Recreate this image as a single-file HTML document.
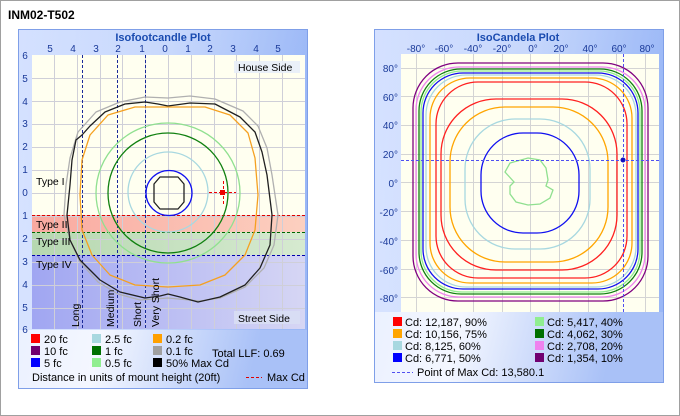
<!DOCTYPE html>
<html><head><meta charset="utf-8"><style>
body{margin:0;background:#fff}
svg{display:block;font-family:"Liberation Sans",sans-serif}
</style></head><body>
<svg width="680" height="416" viewBox="0 0 680 416" xmlns="http://www.w3.org/2000/svg">
<defs>
<linearGradient id="pg" x1="0" y1="0" x2="1" y2="0.3"><stop offset="0" stop-color="#e4ecff"/><stop offset="0.5" stop-color="#f4f7ff"/><stop offset="1" stop-color="#a9c1f7"/></linearGradient>
<linearGradient id="tb" x1="0" y1="0" x2="1" y2="0"><stop offset="0" stop-color="#c9d9ff"/><stop offset="1" stop-color="#8fb0f6"/></linearGradient>
<linearGradient id="t4" x1="0" y1="0" x2="1" y2="0"><stop offset="0" stop-color="#a0a6f2"/><stop offset="1" stop-color="#d6d6f4"/></linearGradient>
<linearGradient id="t2" x1="0" y1="0" x2="1" y2="0"><stop offset="0" stop-color="#f9a9a0"/><stop offset="1" stop-color="#fcd0c0"/></linearGradient>
<linearGradient id="t3" x1="0" y1="0" x2="1" y2="0"><stop offset="0" stop-color="#b6d8b0"/><stop offset="1" stop-color="#d6ead0"/></linearGradient>
</defs>
<rect x="0.5" y="0.5" width="679" height="415" fill="#fff" stroke="#a0a0a0"/>
<text x="8" y="19" font-size="12" font-weight="bold">INM02-T502</text>

<!-- LEFT PANEL -->
<rect x="18.5" y="29.5" width="289" height="359" fill="url(#pg)" stroke="#7f9fe8"/>
<rect x="19" y="30" width="288" height="300" fill="url(#tb)" opacity="0.6"/>
<text x="163" y="41" font-size="11" font-weight="bold" fill="#1a4bb0" text-anchor="middle">Isofootcandle Plot</text>
<g font-size="10" fill="#1a3a9a" text-anchor="middle">
<text x="50" y="52">5</text><text x="73" y="52">4</text><text x="96" y="52">3</text><text x="118" y="52">2</text><text x="142" y="52">1</text><text x="165" y="52">0</text><text x="188" y="52">1</text><text x="210" y="52">2</text><text x="233" y="52">3</text><text x="256" y="52">4</text><text x="278" y="52">5</text>
<text x="25" y="59">6</text><text x="25" y="82">5</text><text x="25" y="105">4</text><text x="25" y="127">3</text><text x="25" y="150">2</text><text x="25" y="173">1</text><text x="25" y="196">0</text><text x="25" y="219">1</text><text x="25" y="242">2</text><text x="25" y="265">3</text><text x="25" y="288">4</text><text x="25" y="311">5</text><text x="25" y="333">6</text>
</g>
<rect x="32" y="55" width="273" height="274" fill="#fffff0"/>
<rect x="32" y="215" width="273" height="17" fill="url(#t2)"/>
<rect x="32" y="232" width="273" height="23" fill="url(#t3)"/>
<rect x="32" y="255" width="273" height="74" fill="url(#t4)"/>
<g stroke="#cfcfd8" stroke-width="1">
<path d="M54.5 55V329M77.5 55V329M100.5 55V329M122.5 55V329M145.5 55V329M168.5 55V329M191.5 55V329M214.5 55V329M236.5 55V329M259.5 55V329M282.5 55V329"/>
<path d="M32 78.5H305M32 101.5H305M32 124.5H305M32 147.5H305M32 170.5H305M32 193.5H305M32 216.5H305M32 239.5H305M32 262.5H305M32 285.5H305M32 308.5H305"/>
</g>
<g stroke-dasharray="3,2" stroke-width="1">
<path d="M32 215.5H305" stroke="#d00"/>
<path d="M32 232.5H305" stroke="#060"/>
<path d="M32 255.5H305" stroke="#00a"/>
<path d="M82.5 55V329M117.5 55V329M145.5 55V329" stroke="#1a2a9a"/>
</g>
<g fill="none" stroke-linejoin="round">
<path d="M168 98 L190 96 L215 99 L243 111 L258 126 L267 148 L272 175 L278 215 L274 245 L264 268 L245 287 L220 298 L200 301 L168 298 L140 300 L118 294 L98 282 L80 262 L70 240 L64 215 L66 185 L70 158 L78 132 L96 112 L120 102 L145 97 Z" stroke="#b0b0b0" stroke-width="1.3"/>
<path d="M168 106 L158 104 L145 102 L125 104 L105 112 L90 126 L82 135 L76 140 L72 160 L70 185 L67 215 L70 240 L80 260 L100 280 L120 292 L145 298 L160 296 L168 294 L180 297 L198 302 L220 297 L245 285 L260 268 L270 245 L272 215 L267 175 L262 152 L255 132 L240 117 L215 104 L190 103 Z" stroke="#202020" stroke-width="1.3"/>
<path d="M168 107 L205 107 L230 115 L248 133 L255 158 L258 195 L255 230 L245 255 L225 275 L200 285 L168 287 L135 285 L110 275 L92 255 L82 230 L80 195 L82 160 L90 135 L108 115 L135 107 Z" stroke="#f5a020" stroke-width="1.3"/>
<ellipse cx="168" cy="193" rx="72" ry="70" stroke="#90e090" stroke-width="1.3"/>
<ellipse cx="168" cy="193" rx="60" ry="60" stroke="#108010" stroke-width="1.3"/>
<ellipse cx="168" cy="192" rx="40" ry="40" stroke="#a8d8e0" stroke-width="1.3"/>
<ellipse cx="169" cy="193" rx="23" ry="22.5" stroke="#1010f0" stroke-width="1.3"/>
<path d="M160 177 L178 177 L184 184 L184 202 L178 209 L160 209 L154 202 L154 184 Z" stroke="#202020" stroke-width="1.3"/>
</g>
<g stroke="#e00" stroke-dasharray="3,2"><path d="M209 192.5H236M223.5 181V206"/></g>
<rect x="220" y="190" width="5" height="5" fill="#e00"/>
<rect x="234" y="61" width="66" height="12" fill="#e8eef8" opacity="0.9"/>
<text x="238" y="71" font-size="10.5">House Side</text>
<rect x="234" y="311" width="66" height="13" fill="#d8def4" opacity="0.9"/>
<text x="238" y="322" font-size="10.5">Street Side</text>
<g font-size="10.5">
<text x="36" y="185">Type I</text><text x="36" y="228">Type II</text><text x="36" y="245">Type III</text><text x="36" y="268">Type IV</text>
<text transform="translate(79,327) rotate(-90)">Long</text>
<text transform="translate(114,327) rotate(-90)">Medium</text>
<text transform="translate(141,327) rotate(-90)">Short</text>
<text transform="translate(159,327) rotate(-90)">Very Short</text>
</g>
<g font-size="11">
<rect x="31" y="334" width="9" height="9" fill="#f00"/><text x="44" y="343">20 fc</text>
<rect x="31" y="346" width="9" height="9" fill="#700070"/><text x="44" y="355">10 fc</text>
<rect x="31" y="358" width="9" height="9" fill="#00f"/><text x="44" y="367">5 fc</text>
<rect x="92" y="334" width="9" height="9" fill="#a8d8e0"/><text x="105" y="343">2.5 fc</text>
<rect x="92" y="346" width="9" height="9" fill="#007000"/><text x="105" y="355">1 fc</text>
<rect x="92" y="358" width="9" height="9" fill="#90ee90"/><text x="105" y="367">0.5 fc</text>
<rect x="153" y="334" width="9" height="9" fill="#ffa000"/><text x="166" y="343">0.2 fc</text>
<rect x="153" y="346" width="9" height="9" fill="#a0a0a0"/><text x="166" y="355">0.1 fc</text>
<rect x="153" y="358" width="9" height="9" fill="#000"/><text x="166" y="367">50% Max Cd</text>
<text x="212" y="357">Total LLF: 0.69</text>
<text x="32" y="381">Distance in units of mount height (20ft)</text>
<path d="M246 377.5H262" stroke="#d00" stroke-dasharray="3,2"/>
<text x="267" y="381">Max Cd</text>
</g>

<!-- RIGHT PANEL -->
<rect x="374.5" y="29.5" width="289" height="353" fill="url(#pg)" stroke="#7f9fe8"/>
<rect x="375" y="30" width="288" height="282" fill="url(#tb)" opacity="0.6"/>
<text x="518" y="41" font-size="11" font-weight="bold" fill="#1a4bb0" text-anchor="middle">IsoCandela Plot</text>
<g font-size="10" fill="#1a3a9a" text-anchor="middle">
<text x="416" y="52">-80°</text><text x="444" y="52">-60°</text><text x="473" y="52">-40°</text><text x="502" y="52">-20°</text><text x="533" y="52">0°</text><text x="561" y="52">20°</text><text x="590" y="52">40°</text><text x="619" y="52">60°</text><text x="647" y="52">80°</text>
</g>
<g font-size="10" fill="#1a3a9a" text-anchor="end">
<text x="398" y="72">80°</text><text x="398" y="101">60°</text><text x="398" y="129">40°</text><text x="398" y="158">20°</text><text x="398" y="187">0°</text><text x="398" y="216">-20°</text><text x="398" y="245">-40°</text><text x="398" y="274">-60°</text><text x="398" y="302">-80°</text>
</g>
<rect x="401" y="54" width="258" height="258" fill="#fffff0"/>
<g stroke="#d4d4d4">
<path d="M416.5 54V312M444.5 54V312M473.5 54V312M502.5 54V312M530.5 54V312M559.5 54V312M588.5 54V312M616.5 54V312M645.5 54V312"/>
<path d="M401 68.5H659M401 96.5H659M401 125.5H659M401 154.5H659M401 182.5H659M401 211.5H659M401 240.5H659M401 269.5H659M401 297.5H659"/>
</g>
<g fill="none" stroke-width="1.3">
<rect x="413" y="63" width="235" height="238" rx="45" stroke="#800080"/>
<rect x="416" y="67" width="229" height="230" rx="43" stroke="#ee82ee"/>
<rect x="419" y="69" width="223" height="225" rx="42" stroke="#108010"/>
<rect x="421" y="71" width="219" height="221" rx="41" stroke="#90ee90"/>
<rect x="423" y="73" width="215" height="216" rx="40" stroke="#1010f0"/>
<rect x="426" y="75" width="210" height="212" rx="40" stroke="#a8d8e0"/>
<rect x="430" y="78" width="202" height="205" rx="40" stroke="#ffa500"/>
<rect x="436" y="82" width="191" height="196" rx="42" stroke="#ff2020"/>
<rect x="441" y="99" width="176" height="171" rx="55" stroke="#ff2020"/>
<rect x="450" y="107" width="158" height="155" rx="55" stroke="#ffa500"/>
<rect x="465" y="119" width="125" height="130" rx="50" stroke="#a8d8e0"/>
<rect x="481" y="133" width="98" height="100" rx="42" stroke="#1010f0"/>
<path d="M528 158 L540 160 L546 168 L548 180 L546 186 L553 190 L550 198 L540 204 L528 205 L516 202 L510 194 L510 186 L514 182 L505 172 L510 163 Z" stroke="#90e090"/>
</g>
<g stroke="#5050f0" stroke-dasharray="3,2"><path d="M401 160.5H659M623.5 54V312"/></g>
<circle cx="623" cy="160" r="2.5" fill="#1010c0"/>
<g font-size="11">
<rect x="393" y="317" width="9" height="9" fill="#f00"/><text x="405" y="326">Cd: 12,187, 90%</text>
<rect x="393" y="329" width="9" height="9" fill="#ffa500"/><text x="405" y="338">Cd: 10,156, 75%</text>
<rect x="393" y="341" width="9" height="9" fill="#a8d8e0"/><text x="405" y="350">Cd: 8,125, 60%</text>
<rect x="393" y="353" width="9" height="9" fill="#00f"/><text x="405" y="362">Cd: 6,771, 50%</text>
<rect x="535" y="317" width="9" height="9" fill="#90ee90"/><text x="547" y="326">Cd: 5,417, 40%</text>
<rect x="535" y="329" width="9" height="9" fill="#007000"/><text x="547" y="338">Cd: 4,062, 30%</text>
<rect x="535" y="341" width="9" height="9" fill="#ee82ee"/><text x="547" y="350">Cd: 2,708, 20%</text>
<rect x="535" y="353" width="9" height="9" fill="#700070"/><text x="547" y="362">Cd: 1,354, 10%</text>
<path d="M392 372.5H413" stroke="#5050f0" stroke-dasharray="3,2"/>
<text x="417" y="376">Point of Max Cd: 13,580.1</text>
</g>
</svg>
</body></html>
